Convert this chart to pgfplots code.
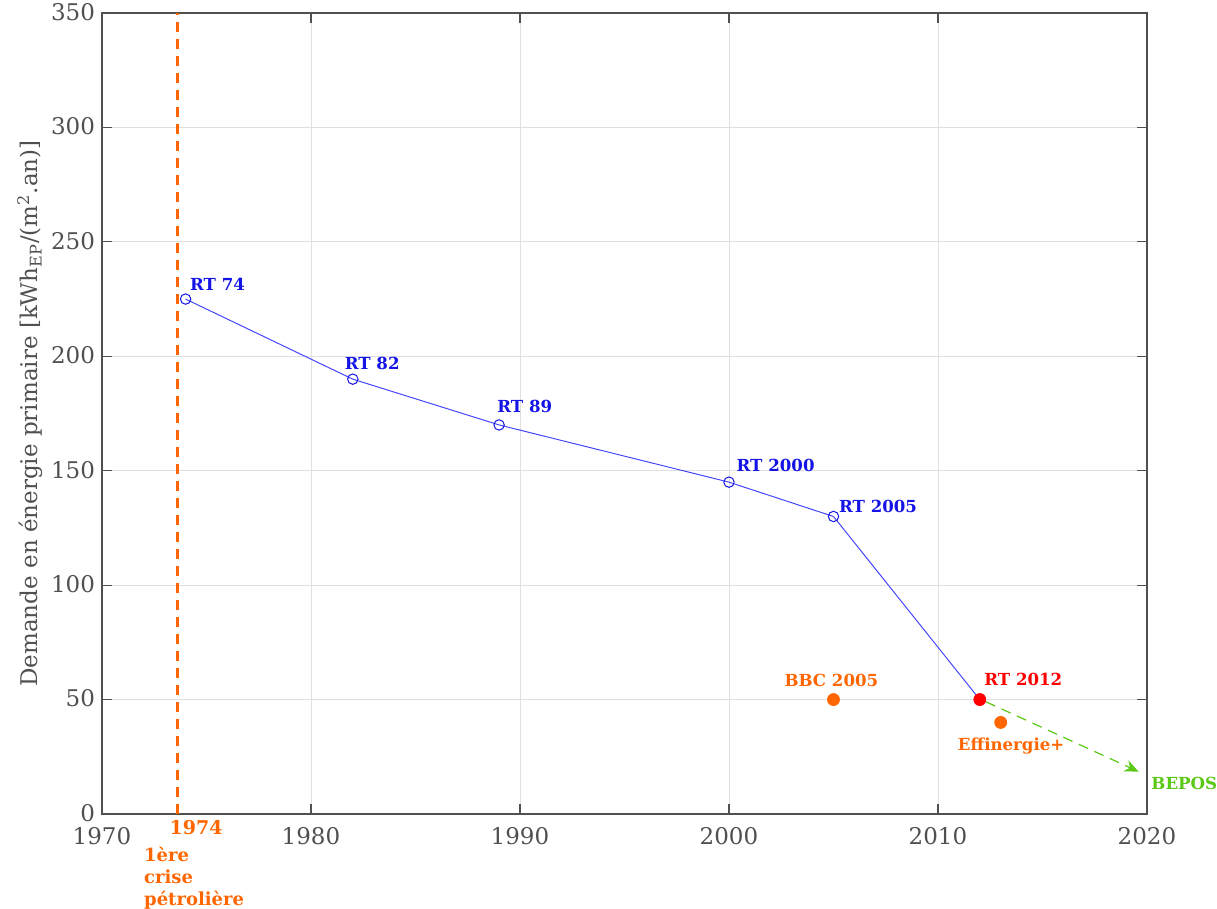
\documentclass[border=0pt]{standalone}
\usepackage{pgfplots}
\pgfplotsset{compat=1.18}
\usepackage{fontspec}
\setmainfont{DejaVu Serif}
\usetikzlibrary{arrows.meta}
\definecolor{rtblue}{RGB}{20,20,230}
\definecolor{lineblue}{RGB}{70,70,255}
\definecolor{orng}{RGB}{255,102,0}
\definecolor{rtred}{RGB}{255,0,0}
\definecolor{grn}{RGB}{90,200,20}
\definecolor{axgray}{RGB}{80,80,80}
\begin{document}
\begin{tikzpicture}
\begin{axis}[
  scale only axis,
  width=522.5pt, height=400.5pt,
  xmin=1970, xmax=2020, ymin=0, ymax=350,
  xtick={1970,1980,...,2020},
  ytick={0,50,...,350},
  /pgf/number format/assume math mode=true,
  xticklabel style={/pgf/number format/1000 sep={}, font=\fontsize{11.5}{13}\selectfont, text=axgray, inner sep=0.5pt, yshift=-5.8pt},
  yticklabel style={font=\fontsize{11.5}{13}\selectfont, text=axgray, inner sep=0.5pt, xshift=-2.8pt, yshift=0.5pt},
  grid=major,
  grid style={color=black!12, line width=0.4pt},
  axis line style={color=axgray, line width=0.6pt},
  tick style={color=axgray, line width=0.6pt},
  major tick length=5pt,
  tick align=inside,
  ylabel={Demande en énergie primaire [kWh\textsubscript{EP}/(m\textsuperscript{2}.an)]},
  ylabel style={font=\fontsize{11.5}{13}\selectfont, text=axgray},
  clip=false,
]
% vertical dashed line 1974
\addplot[orng, dashed, line width=1.3pt, dash pattern=on 5pt off 3.5pt] coordinates {(1973.62,0) (1973.62,350)};
% RT series
\addplot[lineblue, line width=0.5pt, mark=o, mark size=2.6pt, mark options={rtblue, line width=0.5pt}] coordinates {
(1974,225) (1982,190) (1989,170) (2000,145) (2005,130)};
\addplot[lineblue, line width=0.5pt] coordinates {(2005,130) (2012,50)};
% RT 2012
\addplot[only marks, mark=*, mark size=3pt, rtred, mark options={fill=rtred, draw=rtred}] coordinates {(2012,50)};
% BBC, Effinergie
\addplot[only marks, mark=*, mark size=3pt, orng, mark options={fill=orng, draw=orng}] coordinates {(2005,50) (2013,40)};
% arrow BEPOS
\addplot[grn, dashed, line width=0.6pt, dash pattern=on 5pt off 3.5pt, -{Stealth[length=7pt,width=6pt]}] coordinates {(2012.3,49) (2019.6,18.5)};
% labels
\def\lf{\fontsize{8.3}{10}\selectfont\bfseries}
\tikzset{lab/.style={anchor=west, inner sep=0pt, font=\lf}}
\node[lab, text=rtblue] at (axis cs:1974.2,231.5) {RT 74};
\node[lab, text=rtblue] at (axis cs:1981.6,197) {RT 82};
\node[lab, text=rtblue] at (axis cs:1988.9,178) {RT 89};
\node[lab, text=rtblue] at (axis cs:2000.35,152.5) {RT 2000};
\node[lab, text=rtblue] at (axis cs:2005.25,134.5) {RT 2005};
\node[lab, text=rtred] at (axis cs:2012.2,59) {RT 2012};
\node[anchor=center, text=orng, font=\lf] at (axis cs:2004.9,58.2) {BBC 2005};
\node[anchor=center, text=orng, font=\lf] at (axis cs:2013.5,29.5) {Effinergie+};
\node[anchor=west, text=grn, font=\lf, inner sep=1pt] at (axis cs:2020.1,13.5) {BEPOS};
\node[anchor=center, text=orng, font=\fontsize{9.5}{11}\selectfont\bfseries] at (axis cs:1974.5,-6.0) {1974};
\node[anchor=north west, text=orng, font=\fontsize{9}{11}\selectfont\bfseries, align=left, inner sep=0pt] at (axis cs:1972.0,-14.3) {1ère\\crise\\pétrolière};
\end{axis}
\pgfresetboundingbox
\path ([shift={(-51pt,-47.5pt)}]current axis.south west) rectangle ([shift={(35pt,6.5pt)}]current axis.north east);
\end{tikzpicture}
\end{document}
